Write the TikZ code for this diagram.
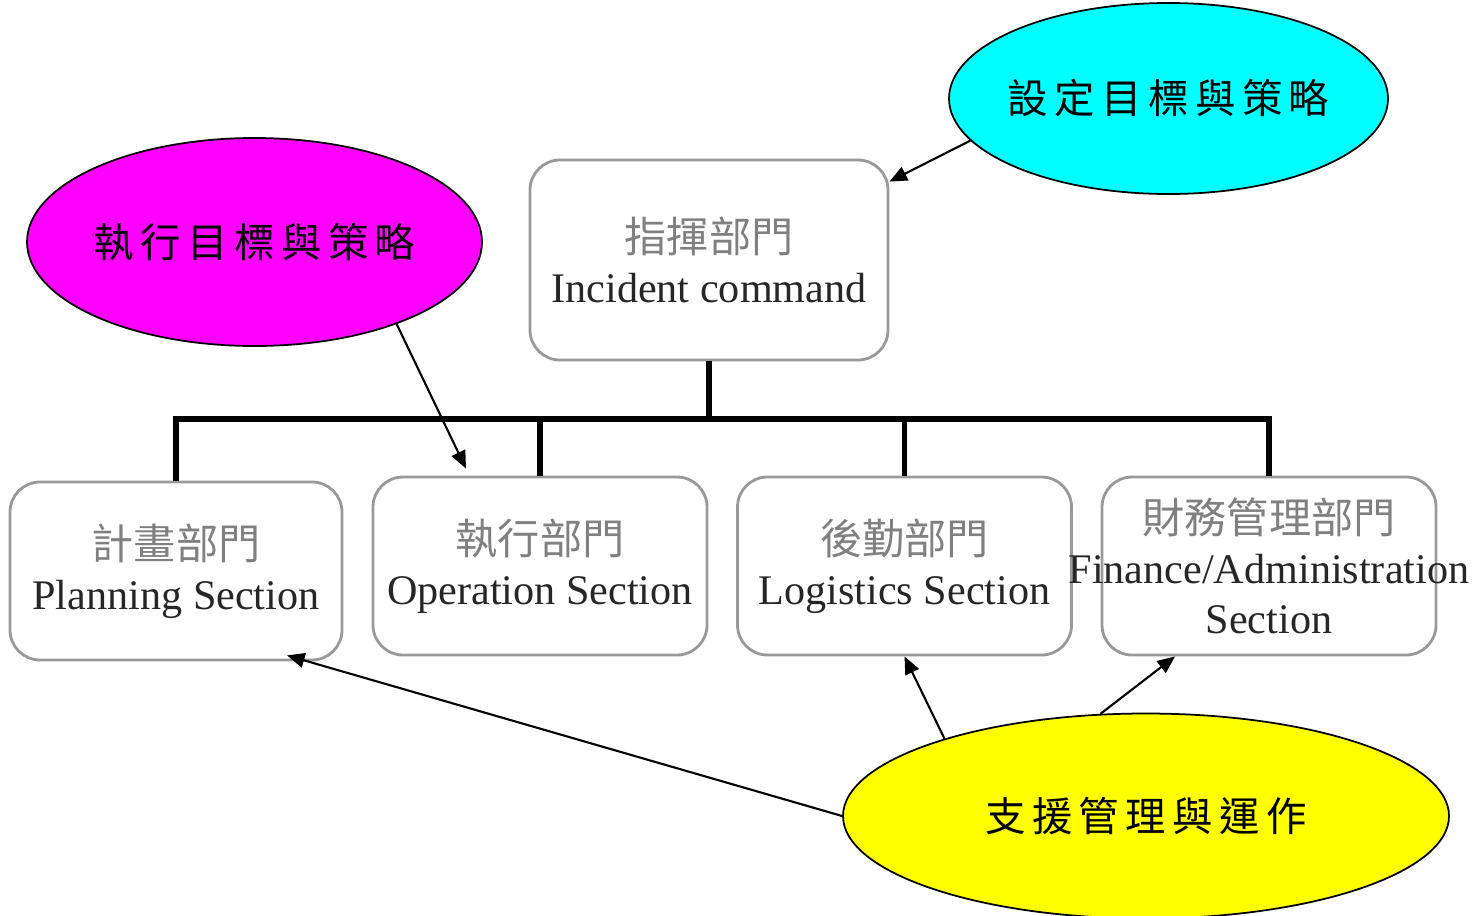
\documentclass[tikz,border=0pt]{standalone}
\usepackage{fontspec}
\setmainfont{Liberation Serif}
\newfontfamily\cjk{Noto Sans CJK TC}
\newfontfamily\cjkwide[LetterSpace=16]{Noto Sans CJK TC}
\usetikzlibrary{shapes.geometric, arrows.meta}
\definecolor{goalfill}{RGB}{0,255,255}
\definecolor{execfill}{RGB}{255,0,255}
\definecolor{supportfill}{RGB}{255,255,0}
\newcommand{\zh}[1]{\textcolor{\zhcol}{\cjk #1}}

\begin{document}
\begin{tikzpicture}
    \def\boxdraw{black!40}
    \def\zhcol{black!50}
    \def\encol{black!85}
    \def\boxw{3.34cm}
    \def\boxh{1.78cm}
    \tikzset{
        unit/.style={draw=\boxdraw, line width=0.8pt, rounded corners=0.3cm, align=center,
            inner sep=0pt, minimum width=\boxw, minimum height=\boxh,
            font=\fontsize{12}{14.2}\selectfont, text=\encol},
        bubble/.style={ellipse, draw=black, line width=0.5pt, inner sep=0pt},
        bubbletext/.style={font=\fontsize{11.5}{13}\selectfont\cjkwide, text=black},
        tree/.style={line width=1.6pt, black},
        pointer/.style={-{Triangle[length=5pt,width=4.2pt]}, line width=0.6pt, black},
    }
    \useasboundingbox (0,0) rectangle (14.79,-9.15);

    \node[unit, minimum width=3.58cm, minimum height=2cm] (ic) at (7.09,-2.60) {\zh{指揮部門}\\Incident command};
    \node[unit, minimum width=3.32cm] (plan) at (1.76,-5.71) {\zh{計畫部門}\\Planning Section};
    \node[unit] (op) at (5.40,-5.66) {\zh{執行部門}\\Operation Section};
    \node[unit] (log) at (9.045,-5.66) {\zh{後勤部門}\\Logistics Section};
    \node[unit] (fin) at (12.69,-5.66) {\zh{財務管理部門}\\\makebox[0pt]{Finance/Administration}\\Section};

    \coordinate (bus) at (0,-4.19);
    \foreach \s in {plan,op,log,fin} {
        \draw[tree] (ic.south) -- (ic.south |- bus) -| (\s.north);
    }

    \node[bubble, fill=goalfill, minimum width=4.39cm, minimum height=1.91cm,
        label={[bubbletext]center:設定目標與策略}] (goal) at (11.685,-0.985) {};
    \node[bubble, fill=execfill, minimum width=4.55cm, minimum height=2.08cm,
        label={[bubbletext]center:執行目標與策略}] (exec) at (2.545,-2.42) {};
    \node[bubble, fill=supportfill, minimum width=6.06cm, minimum height=2.05cm,
        label={[bubbletext]center:支援管理與運作}] (support) at (11.46,-8.16) {};

    \draw[pointer] (goal.192) -- ([yshift=-0.23cm]ic.north east);
    \draw[pointer] (exec.-30) -- ([xshift=-0.74cm,yshift=0.07cm]op.north);
    \draw[pointer] (support.west) -- ([xshift=1.11cm,yshift=0.06cm]plan.south);
    \draw[pointer] (support.159) -- (log.south);
    \draw[pointer] (support.114) -- ([xshift=-0.94cm]fin.south);
\end{tikzpicture}
\end{document}
